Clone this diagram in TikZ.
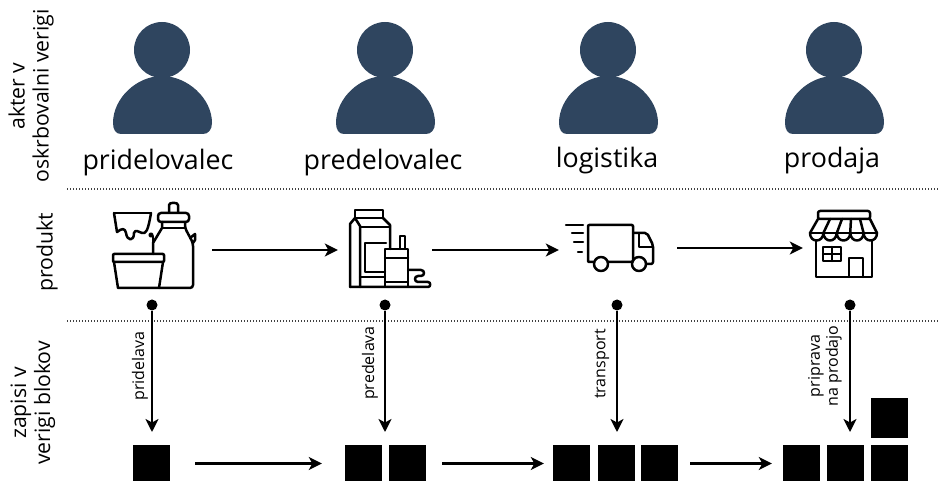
\documentclass[tikz,border=0pt]{standalone}
\usepackage{fontspec}
\setmainfont{Open Sans}
\usetikzlibrary{arrows.meta}

\definecolor{actorblue}{HTML}{2F455F}

\tikzset{
  actor/.style={fill=actorblue},
  actorname/.style={font=\fontsize{26.8}{30}\selectfont, inner sep=0pt},
  rowname/.style={font=\fontsize{21.2}{24}\selectfont, rotate=90, align=center, inner sep=0pt},
  stepname/.style={font=\fontsize{16}{18}\selectfont, rotate=90, align=center, inner sep=0pt},
  iconbox/.style={inner sep=0pt, minimum height=40pt},
  icon/.style={line width=2.5pt, line join=round, line cap=round},
  blockbox/.style={fill=black, inner sep=0pt, minimum size=37pt},
  rowline/.style={line width=1.3pt, dash pattern=on 1.4pt off 1.6pt, black!75},
  flow/.style={line width=2.2pt, -{Stealth[length=13pt, width=13pt, inset=3.5pt]}},
  dotnode/.style={circle, fill=black, inner sep=0pt, minimum size=11pt}
}

\begin{document}
\begin{tikzpicture}[x=1pt, y=-1pt]
    \useasboundingbox (0, 0) rectangle (938, 481);

    % Row names
    \node[rowname] (rowactor) at (31, 96) {akter v\\oskrbovalni verigi};
    \node[rowname] (rowproduct) at (47, 252) {produkt};
    \node[rowname] (rowrecord) at (33, 403) {zapisi v\\verigi blokov};

    % Row separators
    \coordinate (sepaL) at (67, 189);
    \coordinate (sepaR) at (938, 189);
    \coordinate (sepbL) at (67, 321);
    \coordinate (sepbR) at (938, 321);
    \draw[rowline] (sepaL) -- (sepaR);
    \draw[rowline] (sepbL) -- (sepbR);

    % Actors
    \fill[actor] (162, 50) circle (28);
    \fill[actor] (121, 134) .. controls (116, 134) and (113, 130) .. (113, 123) .. controls (113, 98) and (137, 76) .. (162, 76) .. controls (187, 76) and (212, 98) .. (212, 123) .. controls (212, 130) and (208, 134) .. (203, 134) -- cycle;
    \node[actorname] (farmer) at (158, 163) {pridelovalec};

    \fill[actor, shift={(223, 0)}] (162, 50) circle (28);
    \fill[actor, shift={(223, 0)}] (121, 134) .. controls (116, 134) and (113, 130) .. (113, 123) .. controls (113, 98) and (137, 76) .. (162, 76) .. controls (187, 76) and (212, 98) .. (212, 123) .. controls (212, 130) and (208, 134) .. (203, 134) -- cycle;
    \node[actorname] (processor) at (383, 163) {predelovalec};

    \fill[actor, shift={(446, 0)}] (162, 50) circle (28);
    \fill[actor, shift={(446, 0)}] (121, 134) .. controls (116, 134) and (113, 130) .. (113, 123) .. controls (113, 98) and (137, 76) .. (162, 76) .. controls (187, 76) and (212, 98) .. (212, 123) .. controls (212, 130) and (208, 134) .. (203, 134) -- cycle;
    \node[actorname] (logistics) at (607, 161) {logistika};

    \fill[actor, shift={(672, 0)}] (162, 50) circle (28);
    \fill[actor, shift={(672, 0)}] (121, 134) .. controls (116, 134) and (113, 130) .. (113, 123) .. controls (113, 98) and (137, 76) .. (162, 76) .. controls (187, 76) and (212, 98) .. (212, 123) .. controls (212, 130) and (208, 134) .. (203, 134) -- cycle;
    \node[actorname] (retail) at (832, 161) {prodaja};

    % Product icon boxes
    \node[iconbox, minimum width=114pt] (milk) at (155, 250) {};
    \node[iconbox, minimum width=94pt] (carton) at (385, 250) {};
    \node[iconbox, minimum width=118pt] (truck) at (618, 248) {};
    \node[iconbox, minimum width=94pt] (shop) at (850, 248) {};
    \draw[flow] (milk) -- (carton);
    \draw[flow] (carton.east) -- (carton.east -| truck.west);
    \draw[flow] (truck) -- (shop);

    % Milk
    \draw[icon] (114, 213) -- (151, 213);
    \draw[icon] (114, 213) -- (117, 232) .. controls (122, 228) and (125, 228) .. (126, 233) .. controls (127, 241) and (134, 242) .. (134, 233) .. controls (135, 229) and (139, 232) .. (142, 233) .. controls (146, 234) and (148, 231) .. (151, 213);
    \draw[icon, rounded corners=1pt] (113, 254) rectangle (164, 262);
    \draw[icon] (114, 262) -- (118, 288) -- (159, 288) -- (163, 262);
    \draw[icon] (169, 212) -- (169, 205) .. controls (169, 202) and (178, 202) .. (178, 205) -- (178, 212);
    \draw[icon, rounded corners=3pt] (158, 213) rectangle (189, 222);
    \draw[icon] (162, 222) -- (162, 228) -- (153, 243) -- (153, 254);
    \draw[icon, rounded corners=3pt] (185, 222) -- (185, 228) -- (193, 243) -- (193, 288) -- (159, 288);
    \draw[icon] (162, 228) -- (185, 228);
    \draw[icon] (153, 243) -- (153, 236);
    \draw[icon] (151, 235) circle (1.5);
    \draw[icon] (190, 238) -- (195, 234) -- (195, 240) -- (193, 243);

    % Carton
    \draw[icon] (355, 218) -- (355, 210) -- (383, 210) -- (383, 218) -- cycle;
    \draw[icon] (350, 287) -- (350, 224) -- (355, 218);
    \draw[icon] (360, 287) -- (360, 226) -- (355, 218);
    \draw[icon] (360, 227) -- (390, 227);
    \draw[icon] (383, 218) -- (390, 225) -- (390, 249);
    \draw[icon] (386, 243) -- (365, 243) -- (365, 272) -- (385, 272);
    \draw[icon] (360, 277) -- (385, 277);
    \draw[icon] (385, 249) rectangle (408, 287);
    \draw[icon] (385, 258) -- (408, 258);
    \draw[icon] (385, 282) -- (408, 282);
    \draw[icon] (400, 249) -- (400, 236) -- (405, 236) -- (405, 249);
    \draw[icon] (350, 287) -- (428, 287) .. controls (431, 287) and (431, 282) .. (428, 282) -- (418, 282) .. controls (414, 282) and (414, 276) .. (418, 276) -- (421, 276) .. controls (425, 276) and (425, 270) .. (421, 270) -- (408, 270);

    % Truck
    \draw[icon, rounded corners=1pt] (593, 262) -- (588, 262) -- (588, 225) -- (633, 225) -- (633, 262) -- (608, 262);
    \draw[icon, rounded corners=2pt] (633, 233) -- (647, 233) -- (653, 245) -- (653, 264) -- (646, 264);
    \draw[icon] (639, 234) -- (639, 247) -- (653, 247);
    \draw[icon] (601, 264) circle (7);
    \draw[icon] (639, 264) circle (7);
    \draw[icon] (566, 225) -- (583, 225);
    \draw[icon] (572, 233) -- (583, 233);
    \draw[icon] (574, 242) -- (583, 242);
    \draw[icon] (578, 252) -- (582, 252);

    % Shop
    \draw[icon, rounded corners=2pt] (818, 219) -- (818, 211) -- (870, 211) -- (870, 219) -- cycle;
    \draw[icon] (818, 219) -- (810, 233) .. controls (810, 243) and (823, 243) .. (823.4, 233) .. controls (824, 243) and (836, 243) .. (836.8, 233) .. controls (837, 243) and (850, 243) .. (850.2, 233) .. controls (851, 243) and (863, 243) .. (863.6, 233) .. controls (864, 243) and (877, 243) .. (877, 233) -- (870, 219);
    \draw[icon] (810, 233) -- (877, 233);
    \draw[icon] (830, 219) -- (823.4, 233);
    \draw[icon] (842, 219) -- (836.8, 233);
    \draw[icon] (851, 219) -- (850.2, 233);
    \draw[icon] (860, 219) -- (863.6, 233);
    \draw[icon] (816, 241) -- (816, 277) -- (872, 277) -- (872, 241);
    \draw[icon] (823, 247) rectangle (841, 261);
    \draw[icon] (832, 247) -- (832, 261);
    \draw[icon] (823, 254) -- (841, 254);
    \draw[icon] (849, 277) -- (849, 258) -- (863, 258) -- (863, 277);

    % Steps
    \node[dotnode] (dota) at (152, 305) {};
    \node[dotnode] (dotb) at (385, 305) {};
    \node[dotnode] (dotc) at (617, 305) {};
    \node[dotnode] (dotd) at (850, 305) {};
    \coordinate (enda) at (152, 432);
    \coordinate (endb) at (385, 432);
    \coordinate (endc) at (617, 432);
    \coordinate (endd) at (850, 432);
    \draw[flow] (dota) -- (enda);
    \draw[flow] (dotb) -- (endb);
    \draw[flow] (dotc) -- (endc);
    \draw[flow] (dotd) -- (endd);
    \node[stepname] (stepa) at (140, 366) {pridelava};
    \node[stepname] (stepb) at (370, 363) {predelava};
    \node[stepname] (stepc) at (602, 364) {transport};
    \node[stepname] (stepd) at (825, 366) {priprava\\na prodajo};

    % Blocks
    \node[blockbox] (blocka) at (151.5, 463.5) {};
    \node[blockbox] (blockb) at (363.5, 463.5) {};
    \node[blockbox] (blockc) at (407.5, 463.5) {};
    \node[blockbox] (blockd) at (571.5, 463.5) {};
    \node[blockbox] (blocke) at (616.5, 463.5) {};
    \node[blockbox] (blockf) at (659.5, 463.5) {};
    \node[blockbox] (blockg) at (801.5, 463.5) {};
    \node[blockbox] (blockh) at (845, 463.5) {};
    \node[blockbox] (blocki) at (889.5, 463.5) {};
    \node[blockbox, minimum height=40pt] (blockj) at (889.5, 418) {};
    \draw[flow, shorten <=25pt, shorten >=23pt] (blocka) -- (blockb);
    \draw[flow, shorten <=16pt, shorten >=9pt] (blockc) -- (blockd);
    \draw[flow, shorten <=12pt, shorten >=11pt] (blockf) -- (blockg);
\end{tikzpicture}
\end{document}
